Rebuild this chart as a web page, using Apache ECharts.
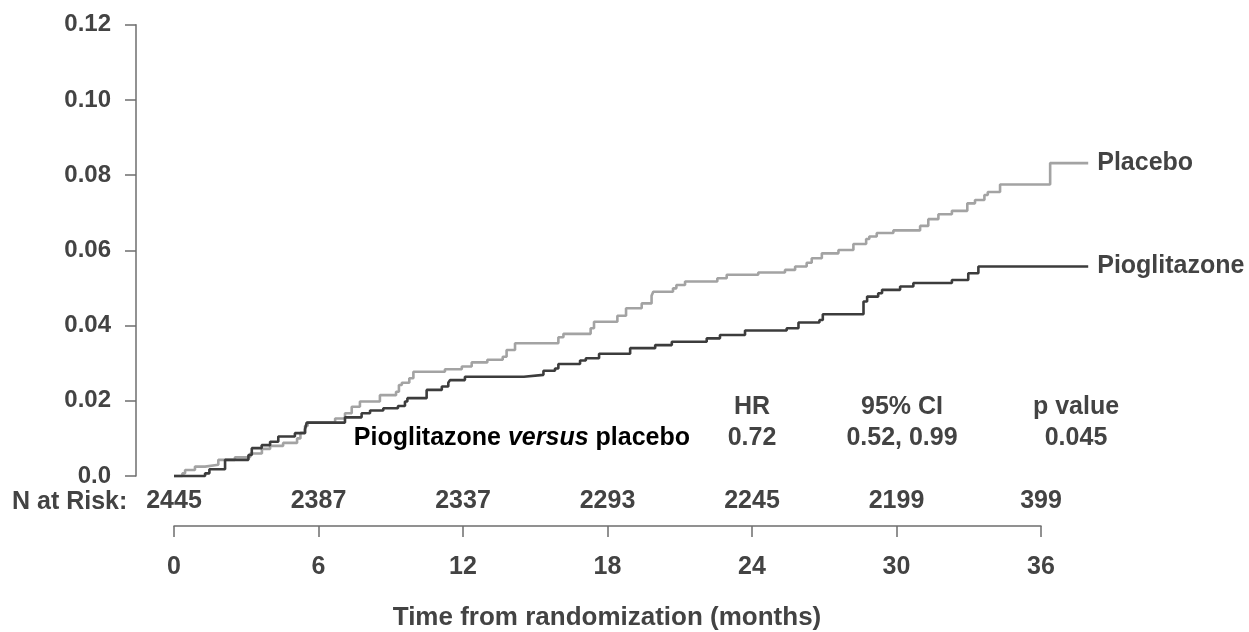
<!DOCTYPE html>
<html>
<head>
<meta charset="utf-8">
<script src="https://cdn.jsdelivr.net/npm/echarts@6/dist/echarts.min.js"></script>
<style>
html,body{margin:0;padding:0;background:#fff;}
#chart{width:1249px;height:632px;}
</style>
</head>
<body>
<div id="chart"></div>
<script>
// ---- Data ----
var xTicks = [0, 6, 12, 18, 24, 30, 36];
var nAtRisk = ['2445', '2387', '2337', '2293', '2245', '2199', '399'];
var yTicks = ['0.0', '0.02', '0.04', '0.06', '0.08', '0.10', '0.12'];

// Kaplan-Meier step points: [month, cumulative event probability after step]
var placebo = [
  [0, 0], [0.35, 0.0007], [0.46, 0.0016], [0.87, 0.0025], [1.29, 0.0030],
  [1.84, 0.0043], [2.53, 0.0050], [3.16, 0.0060], [3.65, 0.0072], [3.99, 0.0080],
  [4.53, 0.0088], [5.11, 0.0100], [5.25, 0.0115], [5.44, 0.0133], [5.55, 0.0142],
  [6.69, 0.0153], [7.10, 0.0167], [7.38, 0.0184], [7.72, 0.0198], [8.55, 0.0215],
  [9.22, 0.0224], [9.34, 0.0242], [9.46, 0.0248], [9.77, 0.0260], [9.94, 0.0277],
  [11.25, 0.0284], [11.95, 0.0291], [12.36, 0.0302], [13.01, 0.0309], [13.65, 0.0317],
  [13.81, 0.0335], [14.16, 0.0353], [15.96, 0.0369], [16.17, 0.0378], [17.30, 0.0393],
  [17.44, 0.0410], [18.41, 0.0426], [18.77, 0.0446], [19.42, 0.0459], [19.83, 0.0479],
  [19.90, 0.0490], [20.72, 0.0499], [20.86, 0.0508], [21.22, 0.0517], [22.56, 0.0526],
  [22.95, 0.0535], [24.26, 0.0541], [25.37, 0.0548], [25.79, 0.0557], [26.27, 0.0567],
  [26.48, 0.0579], [26.90, 0.0592], [27.59, 0.0601], [28.21, 0.0617], [28.74, 0.0630],
  [28.87, 0.0637], [29.18, 0.0646], [29.87, 0.0653], [30.98, 0.0665], [31.32, 0.0683],
  [31.74, 0.0696], [32.30, 0.0705], [32.94, 0.0725], [33.26, 0.0734], [33.65, 0.0747],
  [33.79, 0.0755], [34.30, 0.0775], [36.38, 0.0832], [37.96, 0.0832]
];
var pioglitazone = [
  [0, 0], [1.29, 0.0007], [1.47, 0.0018], [2.12, 0.0043], [3.09, 0.0056],
  [3.23, 0.0074], [3.64, 0.0082], [3.99, 0.0091], [4.33, 0.0105], [5.02, 0.0114],
  [5.44, 0.0124], [5.51, 0.0142], [7.10, 0.0156], [7.79, 0.0167], [8.14, 0.0174],
  [8.69, 0.0180], [9.30, 0.0186], [9.59, 0.0198], [9.69, 0.0207], [10.49, 0.0229],
  [11.12, 0.0238], [11.39, 0.0248], [11.46, 0.0255], [12.08, 0.0264], [14.53, 0.0269],
  [15.34, 0.0280], [15.82, 0.0286], [15.96, 0.0298], [16.86, 0.0307], [17.10, 0.0313],
  [17.65, 0.0325], [18.94, 0.0340], [19.98, 0.0348], [20.67, 0.0357], [22.12, 0.0366],
  [22.67, 0.0375], [23.71, 0.0387], [25.44, 0.0393], [25.93, 0.0408], [26.80, 0.0415],
  [26.94, 0.0430], [28.63, 0.0464], [28.78, 0.0477], [29.24, 0.0486], [29.40, 0.0495],
  [30.15, 0.0504], [30.70, 0.0513], [32.30, 0.0521], [32.98, 0.0539], [33.40, 0.0557],
  [37.96, 0.0557]
];
var seriesNames = ['Placebo', 'Pioglitazone'];
var tableHeader = ['HR', '95% CI', 'p value'];
var tableRow = ['0.72', '0.52, 0.99', '0.045'];

// ---- Chart ----
var FONT = '"Liberation Sans", Arial, sans-serif';
var TXT = '#434343';
var AX = '#6e6e6e';
var FS = 25;
var chart = echarts.init(document.getElementById('chart'), null, {renderer: 'canvas'});

var monthPx = (1041 - 174) / 36;
var xMaxPlot = 38;

var option = {
  animation: false,
  backgroundColor: '#ffffff',
  textStyle: {fontFamily: FONT},
  grid: [
    {left: 174, top: 24.7, height: 451.3, width: monthPx * xMaxPlot},
    {left: 174, top: 525, height: 1, width: monthPx * 36}
  ],
  xAxis: [
    {gridIndex: 0, type: 'value', min: 0, max: xMaxPlot, show: false},
    {gridIndex: 1, type: 'value', min: 0, max: 36, interval: 6, position: 'bottom',
     axisLine: {show: true, onZero: false, lineStyle: {color: AX, width: 1.5}},
     axisTick: {show: true, length: 11, lineStyle: {color: AX, width: 1.5}},
     axisLabel: {margin: 29, color: TXT, fontSize: FS, fontWeight: 'bold', fontFamily: FONT,
                 formatter: function (v) { return String(v); }},
     splitLine: {show: false}},
    {gridIndex: 1, type: 'value', min: 0, max: 36, interval: 6, position: 'top',
     axisLine: {show: false, onZero: false}, axisTick: {show: false},
     axisLabel: {margin: 11, color: TXT, fontSize: FS, fontWeight: 'bold', fontFamily: FONT,
                 formatter: function (v) { return nAtRisk[xTicks.indexOf(v)]; }},
     splitLine: {show: false}}
  ],
  yAxis: [
    {gridIndex: 0, type: 'value', min: 0, max: 0.12, interval: 0.02, offset: 38,
     axisLine: {show: true, onZero: false, lineStyle: {color: AX, width: 1.5}},
     axisTick: {show: true, length: 11, lineStyle: {color: AX, width: 1.5}},
     axisLabel: {margin: 25, color: TXT, fontSize: 24, fontWeight: 'bold', fontFamily: FONT,
                 formatter: function (v) { return yTicks[Math.round(v / 0.02)]; }},
     splitLine: {show: false}},
    {gridIndex: 1, type: 'value', show: false}
  ],
  series: [
    {name: seriesNames[0], type: 'line', step: 'end', xAxisIndex: 0, yAxisIndex: 0,
     data: placebo, showSymbol: false, symbol: 'none', clip: false,
     lineStyle: {color: '#a3a3a3', width: 2.6},
     endLabel: {show: true, formatter: seriesNames[0], distance: 9, color: TXT,
                fontSize: FS, fontWeight: 'bold', fontFamily: FONT}},
    {name: seriesNames[1], type: 'line', step: 'end', xAxisIndex: 0, yAxisIndex: 0,
     data: pioglitazone, showSymbol: false, symbol: 'none', clip: false,
     lineStyle: {color: '#3c3c3c', width: 2.6},
     endLabel: {show: true, formatter: seriesNames[1], distance: 9, color: TXT,
                fontSize: FS, fontWeight: 'bold', fontFamily: FONT}}
  ],
  graphic: [
    {type: 'text', x: 12, y: 502,
     style: {text: 'N at Risk:', fill: TXT, font: 'bold ' + FS + 'px ' + FONT, textVerticalAlign: 'middle'}},
    {type: 'text', x: 607, y: 618,
     style: {text: 'Time from randomization (months)', fill: TXT, font: 'bold 26px ' + FONT,
             textAlign: 'center', textVerticalAlign: 'middle'}},
    {type: 'text', x: 752, y: 407,
     style: {text: tableHeader[0], fill: TXT, font: 'bold ' + FS + 'px ' + FONT, textAlign: 'center', textVerticalAlign: 'middle'}},
    {type: 'text', x: 902, y: 407,
     style: {text: tableHeader[1], fill: TXT, font: 'bold ' + FS + 'px ' + FONT, textAlign: 'center', textVerticalAlign: 'middle'}},
    {type: 'text', x: 1076, y: 407,
     style: {text: tableHeader[2], fill: TXT, font: 'bold ' + FS + 'px ' + FONT, textAlign: 'center', textVerticalAlign: 'middle'}},
    {type: 'text', x: 752, y: 438,
     style: {text: tableRow[0], fill: TXT, font: 'bold ' + FS + 'px ' + FONT, textAlign: 'center', textVerticalAlign: 'middle'}},
    {type: 'text', x: 902, y: 438,
     style: {text: tableRow[1], fill: TXT, font: 'bold ' + FS + 'px ' + FONT, textAlign: 'center', textVerticalAlign: 'middle'}},
    {type: 'text', x: 1076, y: 438,
     style: {text: tableRow[2], fill: TXT, font: 'bold ' + FS + 'px ' + FONT, textAlign: 'center', textVerticalAlign: 'middle'}},
    {type: 'text', x: 690, y: 438,
     style: {rich: {
               n: {fontFamily: FONT, fontSize: FS, fontWeight: 'bold', color: TXT},
               i: {fontFamily: FONT, fontSize: FS, fontWeight: 'bold', fontStyle: 'italic', color: TXT}
             },
             text: '{n|Pioglitazone }{i|versus}{n| placebo}',
             textAlign: 'right', textVerticalAlign: 'middle'}}
  ]
};
chart.setOption(option);
</script>
</body>
</html>
